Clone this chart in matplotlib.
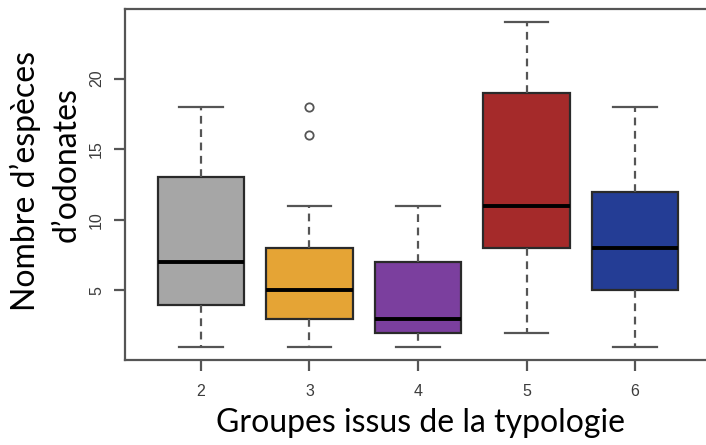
import matplotlib
matplotlib.use("Agg")
import matplotlib.pyplot as plt

# data
groups = ['2', '3', '4', '5', '6']
whislo = [1, 1, 1, 2, 1]
q1 = [4, 3, 2, 8, 5]
med = [7, 5, 3, 11, 8]
q3 = [13, 8, 7, 19, 12]
whishi = [18, 11, 11, 24, 18]
fliers = [[], [16, 18], [], [], []]
colors = ['#A6A6A6', '#E5A435', '#7B3F9E', '#A52A2A', '#243D95']
yticks = [5, 10, 15, 20]

stats = []
for i, g in enumerate(groups):
    stats.append(dict(label=g, whislo=whislo[i], q1=q1[i], med=med[i],
                      q3=q3[i], whishi=whishi[i], fliers=fliers[i]))

fig = plt.figure(figsize=(7.06, 4.45), dpi=100)
ax = fig.add_axes([125 / 706, 1 - 360 / 445, 586 / 706, 351 / 445])

bp = ax.bxp(stats, positions=range(1, len(groups) + 1), widths=0.8,
            patch_artist=True,
            boxprops=dict(edgecolor='#2a2a2a', linewidth=1.6),
            medianprops=dict(color='black', linewidth=2.8, solid_capstyle='butt'),
            whiskerprops=dict(color='#555555', linewidth=1.6, linestyle=(0, (3.5, 2.5))),
            capprops=dict(color='#555555', linewidth=1.6),
            flierprops=dict(marker='o', markersize=6, markerfacecolor='none',
                            markeredgecolor='#555555', markeredgewidth=1.3),
            capwidths=0.4)
for patch, c in zip(bp['boxes'], colors):
    patch.set_facecolor(c)

ax.set_xlim(0.3, 5.7)
ax.set_ylim(0.08, 24.92)
ax.set_yticks(yticks)
ax.set_yticklabels([str(t) for t in yticks], rotation=90, va='center')
ax.set_xticks(range(1, len(groups) + 1))
ax.set_xticklabels(groups)
ax.tick_params(axis='both', length=8, width=1.6, color='#555555',
               labelsize=11.5, labelcolor='#3c3c3c')
ax.tick_params(axis='x', pad=9)
ax.tick_params(axis='y', pad=7)
for lab in ax.get_xticklabels() + ax.get_yticklabels():
    lab.set_fontfamily('Liberation Sans')
for s in ax.spines.values():
    s.set_color('#555555')
    s.set_linewidth(1.6)

# axis titles
fig.text(421 / 706, 1 - 423 / 445, 'Groupes issus de la typologie',
         family='Lato', fontsize=23, ha='center', va='center')
fig.text(25 / 706, 1 - 181 / 445, 'Nombre d’espèces',
         family='Lato', fontsize=23, ha='center', va='center', rotation=90)
fig.text(67 / 706, 1 - 165 / 445, 'd’odonates',
         family='Lato', fontsize=23, ha='center', va='center', rotation=90)

fig.savefig('out.png', dpi=100)
